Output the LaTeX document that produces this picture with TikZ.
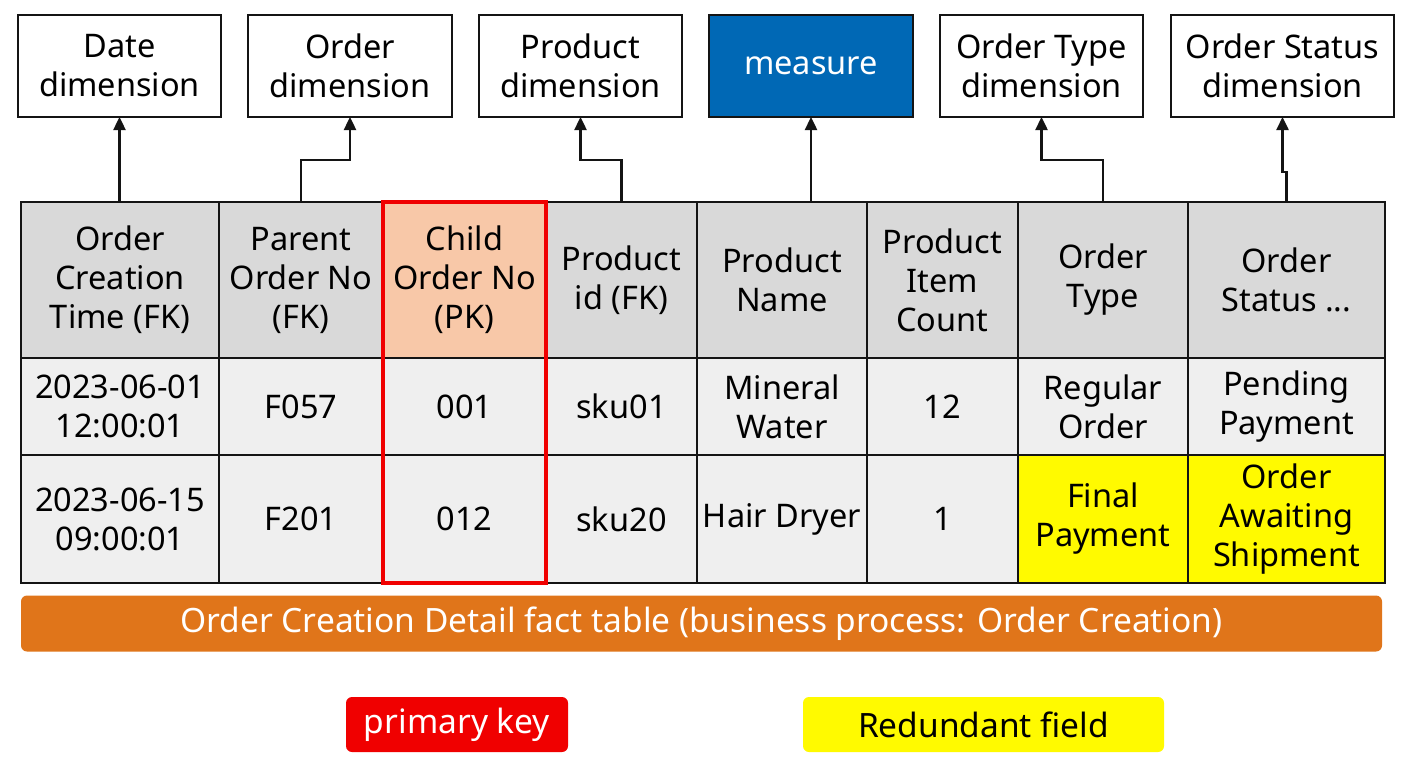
\documentclass[tikz,border=0pt]{standalone}
\usepackage{fontspec}
\setmainfont{Noto Sans}
\usetikzlibrary{arrows.meta}
\definecolor{hdr}{RGB}{217,217,217}
\definecolor{rowc}{RGB}{239,239,239}
\definecolor{pkfill}{RGB}{248,200,168}
\definecolor{pkred}{RGB}{240,0,0}
\definecolor{redun}{RGB}{255,250,0}
\definecolor{meas}{RGB}{0,104,181}
\definecolor{orng}{RGB}{224,117,26}
\definecolor{ink}{RGB}{20,20,20}
\begin{document}
\begin{tikzpicture}[x=1pt,y=-1pt,font=\fontsize{32.5}{39}\selectfont,
  dimbox/.style={draw=ink,line width=2pt,fill=white,minimum height=102,inner sep=0,outer sep=0,align=center},
  cell/.style={draw=ink,line width=1.6pt,inner sep=0,outer sep=0,align=center,anchor=north west},
  hcell/.style={cell,fill=hdr,minimum height=156},
  rcellA/.style={cell,fill=rowc,minimum height=97},
  rcellB/.style={cell,fill=rowc,minimum height=128},
  conn/.style={draw=ink,line width=2.4pt,-{Triangle[length=13pt,width=12pt]}},
  tag/.style={rounded corners=6pt,inner sep=0,outer sep=0,minimum height=55,font=\fontsize{33.5}{39}\selectfont}
]
\fill[white] (0,0) rectangle (1408,768);
\useasboundingbox (0,0) rectangle (1408,768);

% dimension boxes
\node[dimbox,minimum width=203] (dDate) at (119.5,66) {Date\\dimension};
\node[dimbox,minimum width=204] (dOrder) at (350,66) {Order\\dimension};
\node[dimbox,minimum width=203] (dProd) at (580.5,66) {Product\\dimension};
\node[dimbox,minimum width=204,fill=meas,text=white] (dMeas) at (811,66) {measure};
\node[dimbox,minimum width=203] (dType) at (1041.5,66) {Order Type\\dimension};
\node[dimbox,minimum width=223] (dStat) at (1282.5,66) {Order Status\\dimension};

% header row
\node[hcell,minimum width=198] (h1) at (21,202) {Order\\Creation\\Time (FK)};
\node[hcell,minimum width=164] (h2) at (219,202) {Parent\\Order No\\(FK)};
\node[hcell,minimum width=163,fill=pkfill] (h3) at (383,202) {Child\\Order No\\(PK)};
\node[hcell,minimum width=151] (h4) at (546,202) {Product\\id (FK)};
\node[hcell,minimum width=170] (h5) at (697,202) {Product\\Name};
\node[hcell,minimum width=151] (h6) at (867,202) {Product\\Item\\Count};
\node[hcell,minimum width=170] (h7) at (1018,202) {Order\\Type};
\node[hcell,minimum width=197] (h8) at (1188,202) {Order\\Status ...};

% row 1
\node[rcellA,minimum width=198] (a1) at (21,358) {2023-06-01\\12:00:01};
\node[rcellA,minimum width=164] (a2) at (219,358) {F057};
\node[rcellA,minimum width=163] (a3) at (383,358) {001};
\node[rcellA,minimum width=151] (a4) at (546,358) {sku01};
\node[rcellA,minimum width=170] (a5) at (697,358) {Mineral\\Water};
\node[rcellA,minimum width=151] (a6) at (867,358) {12};
\node[rcellA,minimum width=170] (a7) at (1018,358) {Regular\\Order};
\node[rcellA,minimum width=197] (a8) at (1188,358) {Pending\\Payment};

% row 2
\node[rcellB,minimum width=198] (b1) at (21,455) {2023-06-15\\09:00:01};
\node[rcellB,minimum width=164] (b2) at (219,455) {F201};
\node[rcellB,minimum width=163] (b3) at (383,455) {012};
\node[rcellB,minimum width=151] (b4) at (546,455) {sku20};
\node[rcellB,minimum width=170] (b5) at (697,455) {Hair Dryer};
\node[rcellB,minimum width=151] (b6) at (867,455) {1};
\node[rcellB,minimum width=170,fill=redun] (b7) at (1018,455) {Final\\Payment};
\node[rcellB,minimum width=197,fill=redun] (b8) at (1188,455) {Order\\Awaiting\\Shipment};

% primary key frame
\draw[pkred,line width=4pt] (h3.north west) rectangle (b3.south east);

% connectors
\draw[conn] (h1.north -| dDate.south) -- (dDate.south);
\draw[conn] (h2.north) -- ++(0,-42) -| (dOrder.south);
\draw[conn] (h4.north) -- ++(0,-42) -| (dProd.south);
\draw[conn] (h5.north -| dMeas.south) -- (dMeas.south);
\draw[conn] (h7.north) -- ++(0,-42) -| (dType.south);
\draw[conn] (h8.north) -- ++(0,-30) -| (dStat.south);

% fact table banner
\node[tag,fill=orng,text=white,minimum width=1361,minimum height=56] (fact) at (701.5,623.5) {Order Creation Detail fact table (business process: Order Creation)};

% legend
\node[tag,fill=pkred,text=white,minimum width=222] (lpk) at (457,724.5) {primary key};
\node[tag,fill=redun,text=black,minimum width=361] (lred) at (983.5,724.5) {Redundant field};
\end{tikzpicture}
\end{document}
